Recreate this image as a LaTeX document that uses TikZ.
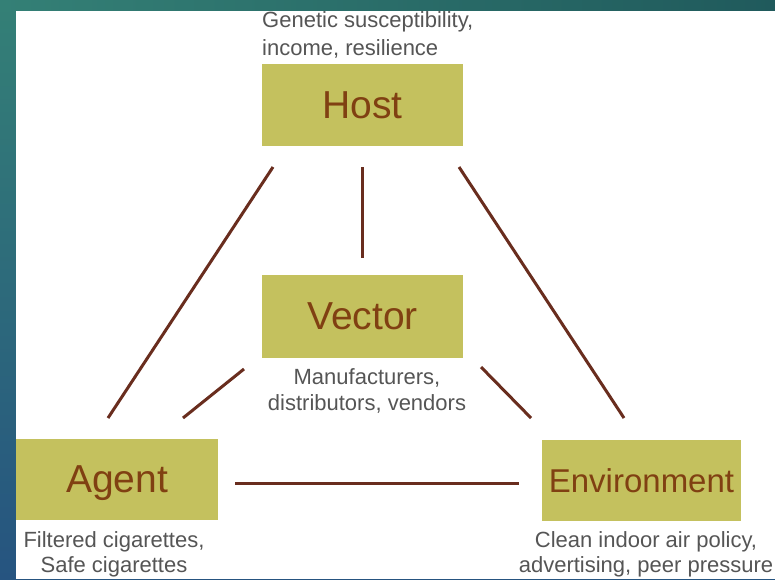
\documentclass[tikz,border=0pt]{standalone}
\usepackage{fontspec}
\setmainfont{Liberation Sans}
\definecolor{boxolive}{RGB}{196,193,94}
\definecolor{labelbrown}{RGB}{128,64,18}
\definecolor{linkbrown}{RGB}{105,45,30}
\definecolor{notegrey}{RGB}{85,85,85}
\definecolor{tealtop}{RGB}{52,128,118}
\definecolor{tealdark}{RGB}{32,90,92}
\definecolor{bluebottom}{RGB}{38,84,128}
\tikzset{
  box/.style={fill=boxolive, text=labelbrown, minimum width=201pt, minimum height=82pt,
    inner sep=0pt, text depth=0pt, font=\fontsize{39}{47}\selectfont},
  note/.style={text=notegrey, inner sep=0pt, align=center, font=\fontsize{22}{26}\selectfont},
  link/.style={draw=linkbrown, line width=3pt}
}
\begin{document}
\begin{tikzpicture}[x=1pt, y=-1pt]

\useasboundingbox (0,0) rectangle (775,579);
\shade[top color=tealtop, bottom color=bluebottom] (0,0) rectangle (775,579);
\shade[left color=tealtop, right color=tealdark] (0,0) rectangle (775,11);
\fill[white] (16,11) rectangle (775,579);

\node (host) [box] at (362.5,105) {Host};
\node (vector) [box, minimum height=83pt] at (362.5,316.5) {Vector};
\node (agent) [box, minimum width=202pt, minimum height=81pt] at (117,479.5) {Agent};
\node (env) [box, minimum width=199pt, minimum height=81pt, font=\fontsize{33}{40}\selectfont] at (641.5,480.5) {Environment};

\node (hostnote) [note, align=left, anchor=north west, font=\fontsize{22}{28}\selectfont] at (262,11) {Genetic susceptibility,\\income, resilience};
\node (vecnote) [note, anchor=north] at (367,368) {Manufacturers,\\distributors, vendors};
\node (agentnote) [note, anchor=north, font=\fontsize{22}{25}\selectfont] at (114,531) {Filtered cigarettes,\\Safe cigarettes};
\node (envnote) [note, anchor=north, font=\fontsize{22}{25}\selectfont] at (646,531) {Clean indoor air policy,\\advertising, peer pressure};

\coordinate (ha1) at (273,167); \coordinate (ha2) at (108,418);
\coordinate (hv1) at (362,167); \coordinate (hv2) at (362,258);
\coordinate (he1) at (459,167); \coordinate (he2) at (624,418);
\coordinate (va1) at (244,369); \coordinate (va2) at (183,418);
\coordinate (ve1) at (481,367); \coordinate (ve2) at (531,418);
\coordinate (ae1) at (235,483); \coordinate (ae2) at (519,483);

\draw[link] (ha1) -- (ha2);
\draw[link] (hv1) -- (hv2);
\draw[link] (he1) -- (he2);
\draw[link] (va1) -- (va2);
\draw[link] (ve1) -- (ve2);
\draw[link] (ae1) -- (ae2);

\end{tikzpicture}
\end{document}
